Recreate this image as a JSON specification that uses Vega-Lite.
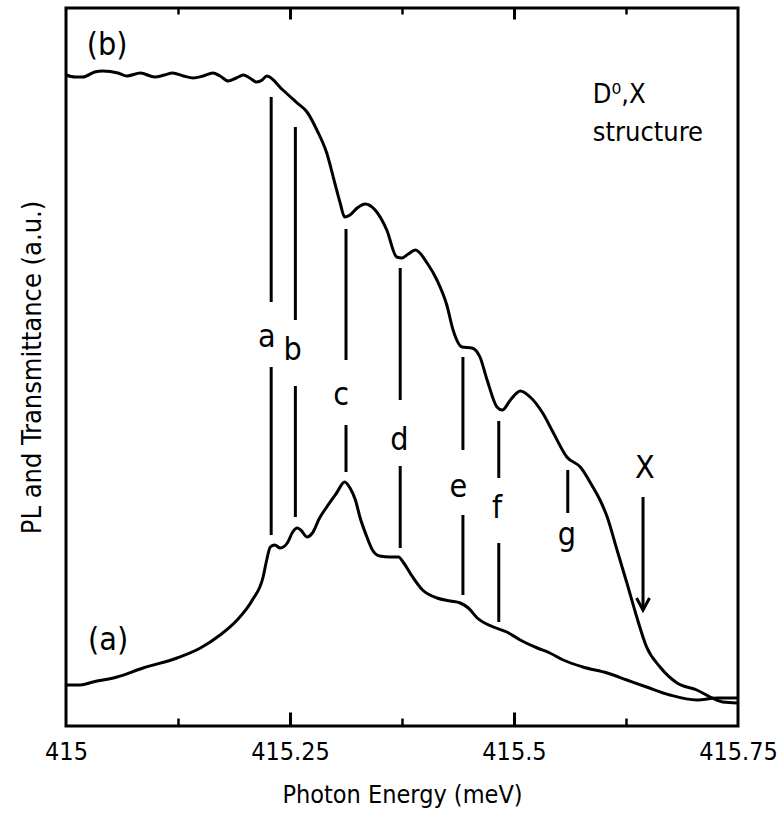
{
  "$schema": "https://vega.github.io/schema/vega-lite/v6.json",
  "width": 672,
  "height": 718,
  "autosize": "none",
  "padding": {"left": 66, "top": 8, "right": 41, "bottom": 104},
  "config": {
    "view": {"stroke": "black", "strokeWidth": 3},
    "font": "Liberation Sans Narrow, DejaVu Sans Condensed, Roboto, sans-serif",
    "axis": {"grid": false, "domain": false, "labelFont": "Liberation Sans Narrow, DejaVu Sans Condensed, Roboto, sans-serif", "titleFont": "Liberation Sans Narrow, DejaVu Sans Condensed, Roboto, sans-serif", "labelColor": "black", "titleColor": "black", "titleFontWeight": "normal", "tickColor": "black"}
  },
  "datasets": {
    "curves": [
      {"s":"b","e":415.000,"v":651},{"s":"b","e":415.010,"v":649},{"s":"b","e":415.019,"v":649},{"s":"b","e":415.032,"v":654},{"s":"b","e":415.041,"v":655},{"s":"b","e":415.058,"v":653},{"s":"b","e":415.068,"v":650},{"s":"b","e":415.083,"v":653},{"s":"b","e":415.099,"v":649},{"s":"b","e":415.110,"v":651},{"s":"b","e":415.119,"v":653},{"s":"b","e":415.131,"v":650},{"s":"b","e":415.142,"v":648},{"s":"b","e":415.153,"v":650},{"s":"b","e":415.164,"v":653},{"s":"b","e":415.172,"v":650},{"s":"b","e":415.181,"v":645},{"s":"b","e":415.190,"v":648},{"s":"b","e":415.198,"v":651},{"s":"b","e":415.205,"v":648},{"s":"b","e":415.213,"v":644},{"s":"b","e":415.219,"v":646},{"s":"b","e":415.224,"v":650},{"s":"b","e":415.242,"v":636},{"s":"b","e":415.258,"v":623},{"s":"b","e":415.269,"v":614},{"s":"b","e":415.280,"v":596},{"s":"b","e":415.291,"v":573},{"s":"b","e":415.300,"v":543},{"s":"b","e":415.306,"v":523},{"s":"b","e":415.311,"v":509},{"s":"b","e":415.317,"v":511},{"s":"b","e":415.325,"v":518},{"s":"b","e":415.334,"v":522},{"s":"b","e":415.345,"v":516},{"s":"b","e":415.358,"v":496},{"s":"b","e":415.369,"v":469},{"s":"b","e":415.375,"v":468},{"s":"b","e":415.382,"v":472},{"s":"b","e":415.390,"v":476},{"s":"b","e":415.403,"v":463},{"s":"b","e":415.414,"v":446},{"s":"b","e":415.425,"v":421},{"s":"b","e":415.432,"v":396},{"s":"b","e":415.442,"v":379},{"s":"b","e":415.453,"v":378},{"s":"b","e":415.462,"v":369},{"s":"b","e":415.470,"v":346},{"s":"b","e":415.481,"v":319},{"s":"b","e":415.487,"v":316},{"s":"b","e":415.496,"v":326},{"s":"b","e":415.507,"v":335},{"s":"b","e":415.518,"v":329},{"s":"b","e":415.532,"v":313},{"s":"b","e":415.544,"v":293},{"s":"b","e":415.559,"v":269},{"s":"b","e":415.574,"v":259},{"s":"b","e":415.588,"v":239},{"s":"b","e":415.596,"v":226},{"s":"b","e":415.604,"v":209},{"s":"b","e":415.615,"v":176},{"s":"b","e":415.626,"v":143},{"s":"b","e":415.637,"v":109},{"s":"b","e":415.648,"v":79},{"s":"b","e":415.663,"v":59},{"s":"b","e":415.682,"v":43},{"s":"b","e":415.704,"v":36},{"s":"b","e":415.719,"v":29},{"s":"b","e":415.733,"v":24},{"s":"b","e":415.749,"v":23},
      {"s":"a","e":415.001,"v":41},{"s":"a","e":415.016,"v":41},{"s":"a","e":415.030,"v":44},{"s":"a","e":415.057,"v":49},{"s":"a","e":415.086,"v":58},{"s":"a","e":415.124,"v":68},{"s":"a","e":415.150,"v":78},{"s":"a","e":415.172,"v":91},{"s":"a","e":415.191,"v":106},{"s":"a","e":415.208,"v":126},{"s":"a","e":415.220,"v":149},{"s":"a","e":415.224,"v":166},{"s":"a","e":415.228,"v":179},{"s":"a","e":415.233,"v":181},{"s":"a","e":415.239,"v":178},{"s":"a","e":415.247,"v":183},{"s":"a","e":415.253,"v":194},{"s":"a","e":415.258,"v":198},{"s":"a","e":415.262,"v":196},{"s":"a","e":415.269,"v":189},{"s":"a","e":415.275,"v":193},{"s":"a","e":415.283,"v":208},{"s":"a","e":415.291,"v":219},{"s":"a","e":415.302,"v":233},{"s":"a","e":415.311,"v":244},{"s":"a","e":415.317,"v":238},{"s":"a","e":415.323,"v":226},{"s":"a","e":415.328,"v":209},{"s":"a","e":415.335,"v":191},{"s":"a","e":415.342,"v":176},{"s":"a","e":415.350,"v":170},{"s":"a","e":415.362,"v":169},{"s":"a","e":415.371,"v":169},{"s":"a","e":415.377,"v":163},{"s":"a","e":415.384,"v":153},{"s":"a","e":415.398,"v":136},{"s":"a","e":415.414,"v":128},{"s":"a","e":415.429,"v":125},{"s":"a","e":415.440,"v":123},{"s":"a","e":415.449,"v":118},{"s":"a","e":415.459,"v":108},{"s":"a","e":415.477,"v":99},{"s":"a","e":415.492,"v":94},{"s":"a","e":415.507,"v":86},{"s":"a","e":415.526,"v":78},{"s":"a","e":415.540,"v":73},{"s":"a","e":415.555,"v":66},{"s":"a","e":415.577,"v":59},{"s":"a","e":415.604,"v":53},{"s":"a","e":415.626,"v":46},{"s":"a","e":415.648,"v":39},{"s":"a","e":415.674,"v":31},{"s":"a","e":415.704,"v":26},{"s":"a","e":415.727,"v":28},{"s":"a","e":415.749,"v":28}
    ],
    "markers": [
      {"m":"a1","e":415.229,"v":629,"v2":424},{"m":"a2","e":415.229,"v":359,"v2":191},
      {"m":"b1","e":415.256,"v":599,"v2":406},{"m":"b2","e":415.256,"v":340,"v2":209},
      {"m":"c1","e":415.3125,"v":497,"v2":366},{"m":"c2","e":415.3125,"v":301,"v2":254},
      {"m":"d1","e":415.373,"v":458,"v2":326},{"m":"d2","e":415.373,"v":260,"v2":178},
      {"m":"e1","e":415.443,"v":369,"v2":276},{"m":"e2","e":415.443,"v":211,"v2":131},
      {"m":"f1","e":415.483,"v":305,"v2":248},{"m":"f2","e":415.483,"v":183,"v2":104},
      {"m":"g1","e":415.560,"v":256,"v2":213},
      {"m":"X","e":415.644,"v":229,"v2":116}
    ],
    "labels": [
      {"t":"a","e":415.224,"v":389},{"t":"b","e":415.253,"v":376},{"t":"c","e":415.307,"v":331},{"t":"d","e":415.372,"v":286},{"t":"e","e":415.438,"v":239},{"t":"f","e":415.481,"v":218},{"t":"g","e":415.559,"v":191},{"t":"X","e":415.646,"v":258},{"t":"(a)","e":415.047,"v":86},{"t":"(b)","e":415.046,"v":681}
    ],
    "notes": [
      {"t":"D⁰,X","e":415.588,"v":631},{"t":"structure","e":415.588,"v":593}
    ],
    "arrow": [{"e":415.644,"v":116}]
  },
  "layer": [
    {
      "data": {"name": "curves"},
      "mark": {"type": "line", "color": "black", "strokeWidth": 3, "interpolate": "monotone"},
      "encoding": {
        "x": {"field": "e", "type": "quantitative", "scale": {"domain": [415, 415.75], "nice": false, "zero": false},
              "axis": {"orient": "bottom", "values": [415, 415.25, 415.5, 415.75], "labelExpr": "'' + datum.value", "ticks": false, "labelFontSize": 25, "labelPadding": 13, "labelFlush": false, "labelOverlap": false, "title": "Photon Energy (meV)", "titleFontSize": 25, "titlePadding": 18}},
        "y": {"field": "v", "type": "quantitative", "scale": {"domain": [0, 718], "nice": false, "zero": false},
              "axis": {"orient": "left", "labels": false, "ticks": false, "title": "PL and Transmittance (a.u.)", "titleFontSize": 27, "titlePadding": 20}},
        "detail": {"field": "s"}
      }
    },
    {
      "data": {"name": "markers"},
      "mark": {"type": "rule", "color": "black", "strokeWidth": 3},
      "encoding": {
        "x": {"field": "e", "type": "quantitative", "axis": {"orient": "bottom", "values": [415.25, 415.5], "labels": false, "tickSize": -14, "tickWidth": 3, "title": null}},
        "y": {"field": "v", "type": "quantitative", "axis": null},
        "y2": {"field": "v2"}
      }
    },
    {
      "data": {"name": "labels"},
      "mark": {"type": "text", "align": "center", "baseline": "middle", "fontSize": 32, "color": "black"},
      "encoding": {
        "x": {"field": "e", "type": "quantitative", "axis": {"orient": "bottom", "values": [415.125, 415.375, 415.625], "labels": false, "tickSize": -8, "tickWidth": 2.5, "title": null}},
        "y": {"field": "v", "type": "quantitative", "axis": null},
        "text": {"field": "t"}
      }
    },
    {
      "data": {"name": "notes"},
      "mark": {"type": "text", "align": "left", "baseline": "middle", "fontSize": 27, "color": "black"},
      "encoding": {
        "x": {"field": "e", "type": "quantitative", "axis": {"orient": "top", "values": [415.25, 415.5], "labels": false, "tickSize": -11, "tickWidth": 3, "title": null}},
        "y": {"field": "v", "type": "quantitative", "axis": null},
        "text": {"field": "t"}
      }
    },
    {
      "data": {"name": "arrow"},
      "mark": {"type": "point", "shape": "M -0.65 -1.2 L 0 0 L 0.65 -1.2", "size": 400, "filled": false, "stroke": "black", "strokeWidth": 3, "opacity": 1},
      "encoding": {
        "x": {"field": "e", "type": "quantitative", "axis": {"orient": "top", "values": [415.125, 415.375, 415.625], "labels": false, "tickSize": -6, "tickWidth": 2.5, "title": null}},
        "y": {"field": "v", "type": "quantitative", "axis": null}
      }
    }
  ],
  "resolve": {"axis": {"x": "independent", "y": "independent"}}
}
